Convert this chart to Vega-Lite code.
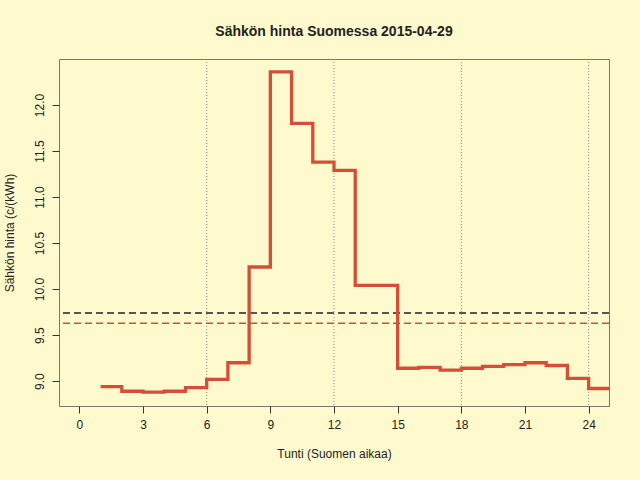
{
  "$schema": "https://vega.github.io/schema/vega-lite/v6.json",
  "autosize": "none",
  "width": 550,
  "height": 347,
  "padding": {"left": 59, "top": 59, "right": 31, "bottom": 74},
  "background": "#FFFACD",
  "config": {
    "view": {"stroke": "#777", "strokeWidth": 1},
    "font": "Liberation Sans",
    "axis": {
      "domain": false, "grid": false, "tickColor": "#333", "tickSize": 7,
      "labelFont": "Liberation Sans", "labelFontSize": 12, "labelColor": "#222",
      "titleFont": "Liberation Sans", "titleFontSize": 12, "titleFontWeight": "normal", "titleColor": "#222"
    }
  },
  "title": {
    "text": "Sähkön hinta Suomessa 2015-04-29",
    "fontSize": 14, "fontWeight": "bold", "color": "#222", "font": "Liberation Sans",
    "anchor": "middle", "offset": 20
  },
  "datasets": {
    "prices": [
      {"hour": 1, "price": 8.94}, {"hour": 2, "price": 8.89}, {"hour": 3, "price": 8.88},
      {"hour": 4, "price": 8.89}, {"hour": 5, "price": 8.93}, {"hour": 6, "price": 9.02},
      {"hour": 7, "price": 9.20}, {"hour": 8, "price": 10.24}, {"hour": 9, "price": 12.36},
      {"hour": 10, "price": 11.80}, {"hour": 11, "price": 11.38}, {"hour": 12, "price": 11.29},
      {"hour": 13, "price": 10.04}, {"hour": 14, "price": 10.04}, {"hour": 15, "price": 9.14},
      {"hour": 16, "price": 9.15}, {"hour": 17, "price": 9.12}, {"hour": 18, "price": 9.14},
      {"hour": 19, "price": 9.16}, {"hour": 20, "price": 9.18}, {"hour": 21, "price": 9.20},
      {"hour": 22, "price": 9.17}, {"hour": 23, "price": 9.03}, {"hour": 24, "price": 8.92},
      {"hour": 25, "price": 8.92}
    ],
    "levels": [
      {"name": "reference", "level": 9.74},
      {"name": "day mean", "level": 9.63}
    ],
    "marks": [{"hour": 6}, {"hour": 12}, {"hour": 18}, {"hour": 24}]
  },
  "layer": [
    {
      "data": {"name": "marks"},
      "mark": {"type": "rule", "color": "#888", "strokeWidth": 1, "strokeDash": [1, 2]},
      "encoding": {
        "x": {"field": "hour", "type": "quantitative"}
      }
    },
    {
      "data": {"name": "levels"},
      "mark": {"type": "rule", "strokeWidth": 1.5, "strokeDash": [7, 4]},
      "encoding": {
        "y": {"field": "level", "type": "quantitative"},
        "color": {
          "field": "name", "type": "nominal", "legend": null,
          "scale": {"domain": ["reference", "day mean"], "range": ["#222", "#CD4F39"]}
        }
      }
    },
    {
      "data": {"name": "prices"},
      "mark": {"type": "line", "interpolate": "step-after", "color": "#D44E38", "strokeWidth": 3.3, "clip": true},
      "encoding": {
        "x": {
          "field": "hour", "type": "quantitative",
          "scale": {"domain": [-0.96, 24.96], "nice": false, "zero": false},
          "axis": {"values": [0, 3, 6, 9, 12, 15, 18, 21, 24], "title": "Tunti (Suomen aikaa)", "labelPadding": 6, "titlePadding": 18}
        },
        "y": {
          "field": "price", "type": "quantitative",
          "scale": {"domain": [8.73, 12.5], "nice": false, "zero": false},
          "axis": {
            "values": [9.0, 9.5, 10.0, 10.5, 11.0, 11.5, 12.0], "format": ".1f",
            "title": "Sähkön hinta (c/(kWh)",
            "labelAngle": -90, "labelAlign": "center", "labelBaseline": "bottom", "labelPadding": 6,
            "titlePadding": 17
          }
        }
      }
    }
  ]
}
